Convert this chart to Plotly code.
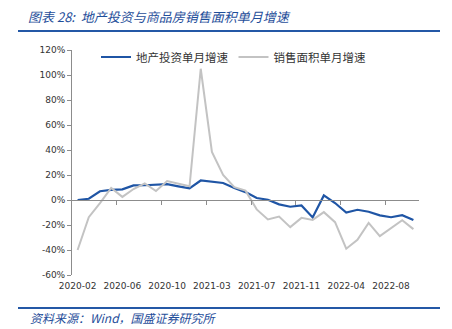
import plotly.graph_objects as go

dates = ["2020-02", "2020-03", "2020-04", "2020-05", "2020-06", "2020-07", "2020-08", "2020-09",
         "2020-10", "2020-11", "2020-12",
         "2021-02", "2021-03", "2021-04", "2021-05", "2021-06", "2021-07", "2021-08", "2021-09",
         "2021-10", "2021-11", "2021-12",
         "2022-02", "2022-03", "2022-04", "2022-05", "2022-06", "2022-07", "2022-08", "2022-09",
         "2022-10"]
invest = [0.0, 1.0, 7.0, 8.1, 8.5, 11.7, 11.8, 12.0, 12.7, 10.9, 9.3,
          15.6, 14.6, 13.6, 9.6, 6.3, 1.6, 0.2, -3.5, -5.4, -4.3, -13.9,
          3.7, -2.4, -10.1, -7.8, -9.4, -12.3, -13.8, -12.1, -16.0]
sales = [-40.0, -13.7, -2.5, 9.7, 2.5, 8.8, 13.3, 7.2, 15.2, 13.0, 11.0,
         105.0, 38.5, 20.0, 10.3, 7.5, -7.5, -15.6, -13.2, -21.7, -14.3, -15.9,
         -9.7, -17.7, -39.0, -31.8, -18.3, -28.9, -22.6, -16.2, -23.3]
yticks = [-60, -40, -20, 0, 20, 40, 60, 80, 100, 120]
name_inv = "地产投资单月增速"
name_sales = "销售面积单月增速"
title = "图表 28:  地产投资与商品房销售面积单月增速"
source = "资料来源：Wind，国盛证券研究所"

W, H = 452, 329
L, R, T, B = 72, 33, 50, 54
BLUE = "#1F55A5"
GRAY = "#C3C3C3"
HEAD = "#2458A6"

idx = list(range(len(dates)))
step = 4
n = len(dates)

fig = go.Figure()
fig.add_trace(go.Scatter(x=idx, y=invest, mode="lines", name=name_inv,
                         line=dict(color=BLUE, width=2.2)))
fig.add_trace(go.Scatter(x=idx, y=sales, mode="lines", name=name_sales,
                         line=dict(color=GRAY, width=2)))
# invisible trace to carry the zero-crossing axis
fig.add_trace(go.Scatter(x=idx, y=invest, mode="lines", xaxis="x2", showlegend=False,
                         hoverinfo="skip", line=dict(color="rgba(0,0,0,0)", width=0)))

ymin, ymax = yticks[0], yticks[-1]
zero_pos = (0 - ymin) / (ymax - ymin)

tickfont = dict(family="DejaVu Sans", size=9, color="#333333")


def px_x(p):
    return (p - L) / (W - L - R)


def px_y(p):
    return 1 - (p - T) / (H - T - B)


fig.update_layout(
    width=W, height=H,
    margin=dict(l=L, r=R, t=T, b=B),
    paper_bgcolor="white", plot_bgcolor="white",
    showlegend=True,
    legend=dict(orientation="h", x=px_x(96), y=px_y(57), xanchor="left", yanchor="middle",
                font=dict(family="Noto Sans CJK SC", size=11.5, color="#333333"),
                itemwidth=30, tracegroupgap=0, bgcolor="rgba(0,0,0,0)"),
    xaxis=dict(range=[-0.5, n - 0.5], tickvals=idx[::step], ticktext=dates[::step],
               showline=False, ticks="", showgrid=False, zeroline=False,
               tickfont=tickfont, ticklabelstandoff=4),
    xaxis2=dict(overlaying="x", anchor="free", position=zero_pos, matches="x",
                range=[-0.5, n - 0.5],
                tickvals=[i - 0.5 for i in idx[step::step]], showticklabels=False,
                showline=True, linecolor="#8C8C8C", linewidth=1,
                ticks="outside", ticklen=4, tickcolor="#8C8C8C",
                showgrid=False, zeroline=False),
    yaxis=dict(range=[ymin, ymax], tickvals=yticks,
               ticktext=[f"{v}%" for v in yticks],
               showline=True, linecolor="#8C8C8C", linewidth=1,
               ticks="outside", ticklen=4, tickcolor="#8C8C8C",
               showgrid=False, zeroline=False, tickfont=tickfont),
)

# header / footer rules
for yy in (31, 308):
    fig.add_shape(type="line", xref="paper", yref="paper",
                  x0=px_x(18), x1=px_x(440), y0=px_y(yy), y1=px_y(yy),
                  line=dict(color=HEAD, width=2))

fig.add_annotation(text=f"<i>{title}</i>", xref="paper", yref="paper",
                   x=px_x(26), y=px_y(17), xanchor="left", yanchor="middle",
                   showarrow=False,
                   font=dict(family="Noto Sans CJK SC", size=13, color="#1F4E9A"))
fig.add_annotation(text=f"<i>{source}</i>", xref="paper", yref="paper",
                   x=px_x(28), y=px_y(317), xanchor="left", yanchor="middle",
                   showarrow=False,
                   font=dict(family="Noto Sans CJK SC", size=12, color="#1F4E9A"))

fig.write_html("out.html")
